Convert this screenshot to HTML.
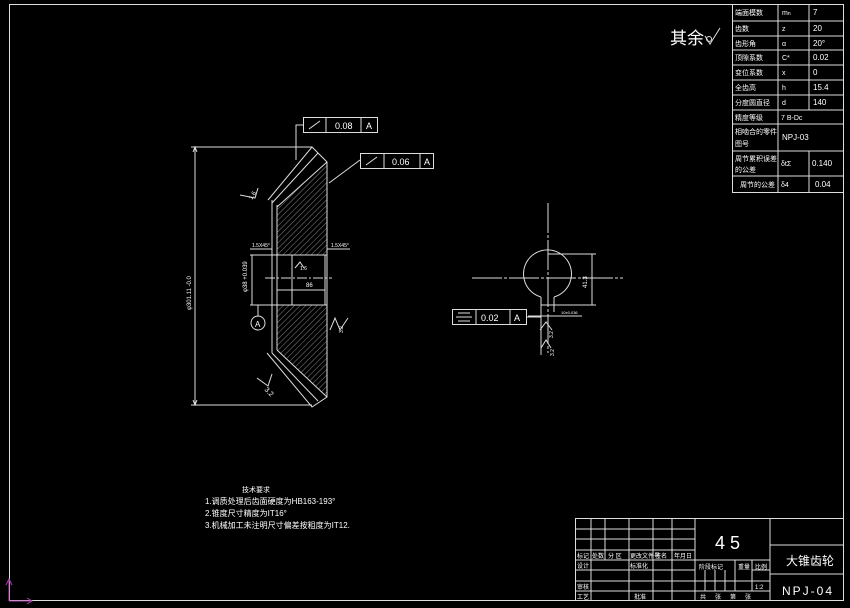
<!DOCTYPE html>
<html><head><meta charset="utf-8"><style>
html,body{margin:0;padding:0;background:#000;}
svg{display:block}
text{font-family:"Liberation Sans","Noto Sans CJK SC",sans-serif;fill:#fff}
.s{font-size:7px}
</style></head><body>
<svg width="850" height="608" viewBox="0 0 850 608" xmlns="http://www.w3.org/2000/svg">
<defs>
<pattern id="h" width="4" height="4" patternUnits="userSpaceOnUse" patternTransform="rotate(45)">
<line x1="0" y1="0" x2="0" y2="4" stroke="#bbb" stroke-width="0.7"/></pattern>
</defs>
<rect width="850" height="608" fill="#000"/>
<g stroke="#ddd" fill="none" stroke-width="1">
<!-- frame -->
<rect x="9.5" y="4.5" width="834" height="596"/>
<!-- param table -->
<rect x="732.5" y="4.5" width="111" height="188"/>
<line x1="732" y1="21" x2="844" y2="21"/><line x1="732" y1="36" x2="844" y2="36"/>
<line x1="732" y1="50" x2="844" y2="50"/><line x1="732" y1="65" x2="844" y2="65"/>
<line x1="732" y1="80" x2="844" y2="80"/><line x1="732" y1="95" x2="844" y2="95"/>
<line x1="732" y1="110" x2="844" y2="110"/><line x1="732" y1="124" x2="844" y2="124"/>
<line x1="732" y1="151" x2="844" y2="151"/><line x1="732" y1="176" x2="844" y2="176"/>
<line x1="778" y1="4" x2="778" y2="192"/><line x1="809" y1="4" x2="809" y2="110"/>
<line x1="809" y1="151" x2="809" y2="192"/>
<!-- title block -->
<rect x="575.5" y="518.5" width="268" height="82"/>
<line x1="695" y1="518" x2="695" y2="601"/><line x1="770" y1="518" x2="770" y2="601"/>
<line x1="770" y1="545" x2="844" y2="545"/><line x1="770" y1="574" x2="844" y2="574"/>
<line x1="575" y1="529" x2="695" y2="529"/><line x1="575" y1="539" x2="695" y2="539"/>
<line x1="575" y1="550" x2="695" y2="550"/><line x1="575" y1="560" x2="695" y2="560"/>
<line x1="575" y1="570" x2="695" y2="570"/><line x1="575" y1="581" x2="695" y2="581"/>
<line x1="575" y1="591" x2="695" y2="591"/>
<line x1="591" y1="518" x2="591" y2="601"/><line x1="605" y1="518" x2="605" y2="560"/>
<line x1="629" y1="518" x2="629" y2="601"/><line x1="653" y1="518" x2="653" y2="601"/>
<line x1="672" y1="518" x2="672" y2="601"/>
<line x1="695" y1="560" x2="770" y2="560"/><line x1="695" y1="581" x2="770" y2="581"/>
<line x1="695" y1="591" x2="770" y2="591"/>
<line x1="735" y1="560" x2="735" y2="591"/><line x1="752" y1="560" x2="752" y2="591"/>
<line x1="705" y1="570" x2="705" y2="591"/><line x1="715" y1="570" x2="715" y2="591"/><line x1="725" y1="570" x2="725" y2="591"/>
<line x1="752" y1="570" x2="770" y2="570"/>
</g>
<!-- purple ucs -->
<g stroke="#b040b0" fill="none" stroke-width="1">
<line x1="9" y1="601" x2="9" y2="580"/><polyline points="6,585 9,579 12,585"/>
<line x1="9" y1="601" x2="32" y2="601"/><polyline points="27,598 32,601 27,604"/>
</g>
<!-- table text -->
<g class="s">
<text x="735" y="15">端面模数</text><text x="782" y="15">m<tspan font-size="5">n</tspan></text><text x="813" y="15" font-size="8">7</text>
<text x="735" y="31">齿数</text><text x="782" y="31">z</text><text x="813" y="31" font-size="8">20</text>
<text x="735" y="46">齿形角</text><text x="782" y="46">α</text><text x="813" y="46" font-size="8">20°</text>
<text x="735" y="60">顶隙系数</text><text x="782" y="60">C*</text><text x="813" y="60" font-size="8">0.02</text>
<text x="735" y="75">变位系数</text><text x="782" y="75">x</text><text x="813" y="75" font-size="8">0</text>
<text x="735" y="90">全齿高</text><text x="782" y="90">h</text><text x="813" y="90" font-size="8">15.4</text>
<text x="735" y="105">分度圆直径</text><text x="782" y="105">d</text><text x="813" y="105" font-size="8">140</text>
<text x="735" y="120">精度等级</text><text x="781" y="120">7 B-Dc</text>
<text x="735" y="134">相啮合的零件</text><text x="735" y="146">图号</text><text x="782" y="140" font-size="8">NPJ-03</text>
<text x="735" y="161">周节累积误差</text><text x="735" y="172">的公差</text><text x="781" y="166">δtΣ</text><text x="812" y="166" font-size="8">0.140</text>
<text x="740" y="187">周节的公差</text><text x="781" y="187">δ4</text><text x="815" y="187" font-size="8">0.04</text>
<!-- title block text -->
<text x="577" y="558" font-size="6">标记</text><text x="592" y="558" font-size="6">处数</text><text x="608" y="558" font-size="6">分 区</text>
<text x="630" y="558" font-size="6">更改文件号</text><text x="655" y="558" font-size="6">签名</text><text x="674" y="558" font-size="6">年月日</text>
<text x="577" y="568" font-size="6">设计</text><text x="630" y="568" font-size="6">标准化</text>
<text x="577" y="589" font-size="6">审核</text><text x="577" y="599" font-size="6">工艺</text><text x="634" y="599" font-size="6">批准</text>
<text x="699" y="569" font-size="6">阶段标记</text><text x="738" y="569" font-size="6">重量</text><text x="755" y="569" font-size="6">比例</text>
<text x="755" y="589" font-size="6">1:2</text>
<text x="700" y="599" font-size="6" letter-spacing="9">共张第张</text>
</g>
<text x="715" y="549" font-size="18" font-weight="300">4 5</text>
<text x="786" y="565" font-size="12">大锥齿轮</text>
<text x="782" y="595" font-size="12" letter-spacing="2">NPJ-04</text>
<text x="670" y="44" font-size="17">其余</text>
<g stroke="#ddd" fill="none"><polyline points="705,36 710,44 720,28"/><circle cx="709" cy="39" r="2.5"/></g>
<!-- notes -->
<text x="242" y="492" class="s">技术要求</text>
<text x="205" y="504" font-size="8">1.调质处理后齿面硬度为HB163-193°</text>
<text x="205" y="516" font-size="8">2.锥度尺寸精度为IT16°</text>
<text x="205" y="528" font-size="8">3.机械加工未注明尺寸偏差按粗度为IT12.</text>
<!-- gear section -->
<polygon points="327,162 277,207 277,255 327,255" fill="url(#h)"/>
<polygon points="277,305 327,305 327,397 277,350" fill="url(#h)"/>
<g stroke="#ddd" fill="none" stroke-width="1">
<line x1="195" y1="147" x2="195" y2="405"/>
<line x1="191" y1="147" x2="312" y2="147"/><line x1="191" y1="405" x2="312" y2="405"/>
<polyline points="193,152 195,147 197,152"/><polyline points="193,400 195,405 197,400"/>
<polyline points="268,200 312,147 327,162 327,397 312,407 267,353"/>
<line x1="327" y1="162" x2="277" y2="207"/><line x1="277" y1="350" x2="327" y2="397"/>
<line x1="318" y1="153" x2="272" y2="203"/><line x1="272" y1="353" x2="318" y2="401"/>
<line x1="272" y1="200" x2="272" y2="353"/><line x1="277" y1="205" x2="277" y2="350"/>
<line x1="262" y1="255" x2="327" y2="255"/><line x1="262" y1="305" x2="327" y2="305"/>
<line x1="292" y1="255" x2="292" y2="305"/><line x1="325" y1="255" x2="325" y2="305"/>
<line x1="265" y1="278" x2="332" y2="278" stroke-dasharray="10,2,2,2"/>
<line x1="277" y1="290" x2="325" y2="290"/>
<line x1="252" y1="255" x2="252" y2="305"/><line x1="250" y1="255" x2="272" y2="255"/><line x1="250" y1="305" x2="272" y2="305"/>
<line x1="250" y1="249" x2="272" y2="249"/><line x1="327" y1="249" x2="350" y2="249"/>
<circle cx="258" cy="323" r="7"/><line x1="258" y1="305" x2="258" y2="316"/>
<rect x="303.5" y="117.5" width="74" height="15"/><line x1="326" y1="117" x2="326" y2="132"/><line x1="361" y1="117" x2="361" y2="132"/>
<polyline points="303,125 296,125 296,160"/>
<rect x="360.5" y="153.5" width="73" height="15"/><line x1="384" y1="153" x2="384" y2="168"/><line x1="420" y1="153" x2="420" y2="168"/>
<line x1="360" y1="160" x2="329" y2="183"/>
<line x1="309" y1="129" x2="320" y2="121"/><line x1="366" y1="165" x2="377" y2="157"/>
<polyline points="240,195 255,198 258,188"/><polyline points="330,330 335,318 340,330 348,318"/>
<polyline points="257,378 268,386 272,374"/><polyline points="295,268 300,262 304,268"/>
</g>
<text x="335" y="129" font-size="9">0.08</text><text x="366" y="129" font-size="9">A</text>
<text x="392" y="165" font-size="9">0.06</text><text x="424" y="165" font-size="9">A</text>
<text x="255" y="327" font-size="8">A</text>
<text x="306" y="287" font-size="6">86</text>
<text x="252" y="247" font-size="5">1.5X45°</text><text x="331" y="247" font-size="5">1.5X45°</text>
<text x="300" y="270" font-size="5">1.6</text>
<text transform="translate(247,292) rotate(-90)" font-size="6">φ38 +0.039</text>
<text transform="translate(191,310) rotate(-90)" font-size="6">φ301.11 -0.0</text>
<text transform="translate(252,200) rotate(-60)" font-size="6">1.6</text>
<text transform="translate(343,333) rotate(-90)" font-size="5">3.2</text>
<text transform="translate(264,390) rotate(45)" font-size="7">3.2</text>
<!-- right view -->
<g stroke="#ddd" fill="none" stroke-width="1">
<line x1="548" y1="203" x2="548" y2="353" stroke-dasharray="30,2,3,2"/>
<line x1="472" y1="278" x2="623" y2="278" stroke-dasharray="30,2,3,2"/>
<path d="M541,297 A24,24 0 1 1 554,297"/>
<line x1="541" y1="297" x2="541" y2="355"/><line x1="554" y1="297" x2="554" y2="312"/>
<line x1="548" y1="254" x2="596" y2="254"/><line x1="541" y1="305" x2="596" y2="305"/>
<line x1="592" y1="254" x2="592" y2="305"/>
<line x1="528" y1="316" x2="582" y2="316"/>
<rect x="452.5" y="309.5" width="74" height="15"/><line x1="476" y1="309" x2="476" y2="324"/><line x1="510" y1="309" x2="510" y2="324"/>
<line x1="526" y1="317" x2="541" y2="317"/>
<line x1="458" y1="313" x2="470" y2="313"/><line x1="456" y1="317" x2="472" y2="317"/><line x1="458" y1="321" x2="470" y2="321"/>
<polyline points="540,330 546,322 552,330"/><polyline points="541,348 546,340 551,348"/>
</g>
<text x="481" y="321" font-size="9">0.02</text><text x="514" y="321" font-size="9">A</text>
<text x="561" y="314" font-size="4">10±0.036</text>
<text transform="translate(587,288) rotate(-90)" font-size="6">41.3</text>
<text transform="translate(553,338) rotate(-90)" font-size="5">3.2</text>
<text transform="translate(554,356) rotate(-90)" font-size="5">3.2</text>
</svg>
</body></html>
